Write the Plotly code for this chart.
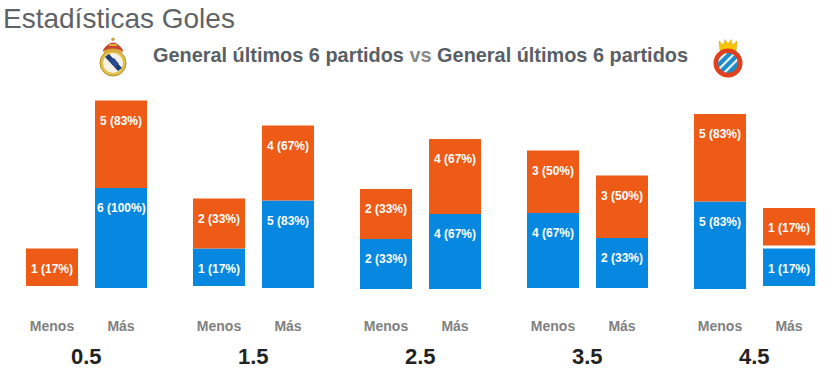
import base64
import plotly.graph_objects as go

# ---- data ----
goal_lines = ["0.5", "1.5", "2.5", "3.5", "4.5"]
side_labels = ["Menos", "Más"]
blue_counts = [0, 6, 1, 5, 2, 4, 4, 2, 5, 1]
blue_pcts = [0, 100, 17, 83, 33, 67, 67, 33, 83, 17]
orange_counts = [1, 5, 2, 4, 2, 4, 3, 3, 5, 1]
orange_pcts = [17, 83, 33, 67, 33, 67, 50, 50, 83, 17]
# each column's small lift above the common baseline, and the gap between its
# two segments, in count units, as seen in the reference
column_lift = [0.24, 0.08, 0.24, 0.08, 0, 0, 0.08, 0.08, 0, 0.24]
segment_gap = [0, 0, 0, 0, 0, 0, 0, 0, 0, 0.24]
title_text = "Estadísticas Goles"
team_text = "General últimos 6 partidos"

BLUE = "#0688e0"
ORANGE = "#ee5b16"
FONT = "Liberation Sans, Arial, sans-serif"

# The reference's bars have a floor: a segment's height is count + 2 units.
FLOOR = 2
def seg(c):
    return c + FLOOR if c else 0

# layout geometry (pixels)
W, H = 840, 372
PLOT_T, PLOT_B = 80, 296
BASE_PX = 289
UNIT_PX = 12.5
GROUP_PX = 167
FIRST_GROUP_PX = 86.5
SIDE = 34.5 / GROUP_PX
BAR_W = 52 / GROUP_PX

n = len(goal_lines)
xs = []
for i in range(n):
    xs += [i - SIDE, i + SIDE]
ticktext = side_labels * n

blue_h = [seg(c) for c in blue_counts]
orange_h = [seg(c) for c in orange_counts]
orange_base = [l + b + g for l, b, g in zip(column_lift, blue_h, segment_gap)]

def py(px):
    return (PLOT_B - px) / (PLOT_B - PLOT_T)
def px_x(px):
    return px / W

def svg_uri(svg):
    return "data:image/svg+xml;base64," + base64.b64encode(svg.encode()).decode()

madrid_svg = """<svg xmlns='http://www.w3.org/2000/svg' viewBox='0 0 30 40' width='30' height='40'>
<circle cx='15' cy='26' r='13' fill='#e3c04a' stroke='#a98f2c' stroke-width='1'/>
<circle cx='15' cy='26' r='10' fill='#f4f1e6'/>
<path d='M7 20 L20 34 L24 31 L11 17 Z' fill='#1f3a78'/>
<path d='M11 23 l5 -2 l5 6 l-4 3 Z' fill='#2b4a94'/>
<path d='M5 13 Q15 -2 25 13 L24 16 Q15 12 6 16 Z' fill='#c8452f'/>
<path d='M6 13.5 Q15 9.5 24 13.5 L24 16.5 Q15 13 6 16.5 Z' fill='#d9a93a'/>
<circle cx='15' cy='2.2' r='1.7' fill='#c9a13a'/>
<path d='M11 8 L19 8' stroke='#e8c84a' stroke-width='1.6'/>
</svg>"""

espanyol_svg = """<svg xmlns='http://www.w3.org/2000/svg' viewBox='0 0 30 40' width='30' height='40'>
<path d='M7 13 L6 3 L10.5 7 L12 1.5 L15 6 L18 1.5 L19.5 7 L24 3 L23 13 Z' fill='#f5c400' stroke='#d79c00' stroke-width='0.5'/>
<circle cx='15' cy='25' r='14.5' fill='#e2401c'/>
<circle cx='15' cy='25' r='10' fill='#1f8cc8'/>
<clipPath id='c'><circle cx='15' cy='25' r='10'/></clipPath>
<g clip-path='url(#c)' stroke='#eaf5fb' stroke-width='2.2'>
<path d='M2 26 L16 12'/><path d='M5 32 L24 13'/><path d='M10 36 L29 17'/>
</g>
</svg>"""

fig = go.Figure()
fig.add_bar(x=xs, y=blue_h, base=column_lift, width=BAR_W,
            marker=dict(color=BLUE, line_width=0), hoverinfo="skip")
fig.add_bar(x=xs, y=orange_h, base=orange_base, width=BAR_W,
            marker=dict(color=ORANGE, line_width=0), hoverinfo="skip")

annotations = []
# value labels: a fixed distance under each segment's top
def add_value_labels(counts, pcts, bases, heights):
    for x, c, p, b, h in zip(xs, counts, pcts, bases, heights):
        if not c:
            continue
        annotations.append(dict(x=x, y=b + h, xref="x", yref="y", yshift=-20,
                                text=f"<b>{c} ({p}%)</b>", showarrow=False,
                                font=dict(family=FONT, size=12, color="white"),
                                xanchor="center", yanchor="middle"))
add_value_labels(blue_counts, blue_pcts, column_lift, blue_h)
add_value_labels(orange_counts, orange_pcts, orange_base, orange_h)

for i, g in enumerate(goal_lines):
    annotations.append(dict(x=i, y=py(356), xref="x", yref="paper",
                            text=f"<b>{g}</b>", showarrow=False,
                            font=dict(family=FONT, size=22, color="#222222"),
                            xanchor="center", yanchor="middle"))

annotations.append(dict(x=px_x(1), y=py(19), xref="paper", yref="paper",
                        text=title_text, showarrow=False, xanchor="left", yanchor="middle",
                        font=dict(family=FONT, size=28, color="#5f6368")))
annotations.append(dict(x=px_x(420.5), y=py(55), xref="paper", yref="paper",
                        text=f"<b>{team_text}</b> <span style='color:#8a8a8a'><b>vs</b></span> <b>{team_text}</b>",
                        showarrow=False, xanchor="center", yanchor="middle",
                        font=dict(family=FONT, size=19.9, color="#595f66")))

images = [
    dict(source=svg_uri(madrid_svg), xref="paper", yref="paper", x=px_x(98), y=py(37),
         sizex=30 / W, sizey=40 / (PLOT_B - PLOT_T), xanchor="left", yanchor="top", layer="above"),
    dict(source=svg_uri(espanyol_svg), xref="paper", yref="paper", x=px_x(713), y=py(38),
         sizex=30 / W, sizey=40 / (PLOT_B - PLOT_T), xanchor="left", yanchor="top", layer="above"),
]

fig.update_layout(
    width=W, height=H, barmode="overlay", showlegend=False,
    paper_bgcolor="white", plot_bgcolor="white",
    margin=dict(l=0, r=0, t=PLOT_T, b=H - PLOT_B, pad=0),
    annotations=annotations, images=images,
    xaxis=dict(range=[-FIRST_GROUP_PX / GROUP_PX, (W - FIRST_GROUP_PX) / GROUP_PX],
               tickmode="array", tickvals=xs,
               ticktext=[f"<b>{t}</b>" for t in ticktext],
               tickfont=dict(family=FONT, size=14, color="#808080"),
               ticks="", ticklabelstandoff=20, showgrid=False, zeroline=False,
               showline=False, fixedrange=True),
    yaxis=dict(range=[-(PLOT_B - BASE_PX) / UNIT_PX, (BASE_PX - PLOT_T) / UNIT_PX],
               visible=False, showgrid=False, zeroline=False, fixedrange=True),
)

fig.write_html("out.html", config={"displayModeBar": False},
               post_script="document.body.style.margin='0';document.documentElement.style.overflow='hidden';")
